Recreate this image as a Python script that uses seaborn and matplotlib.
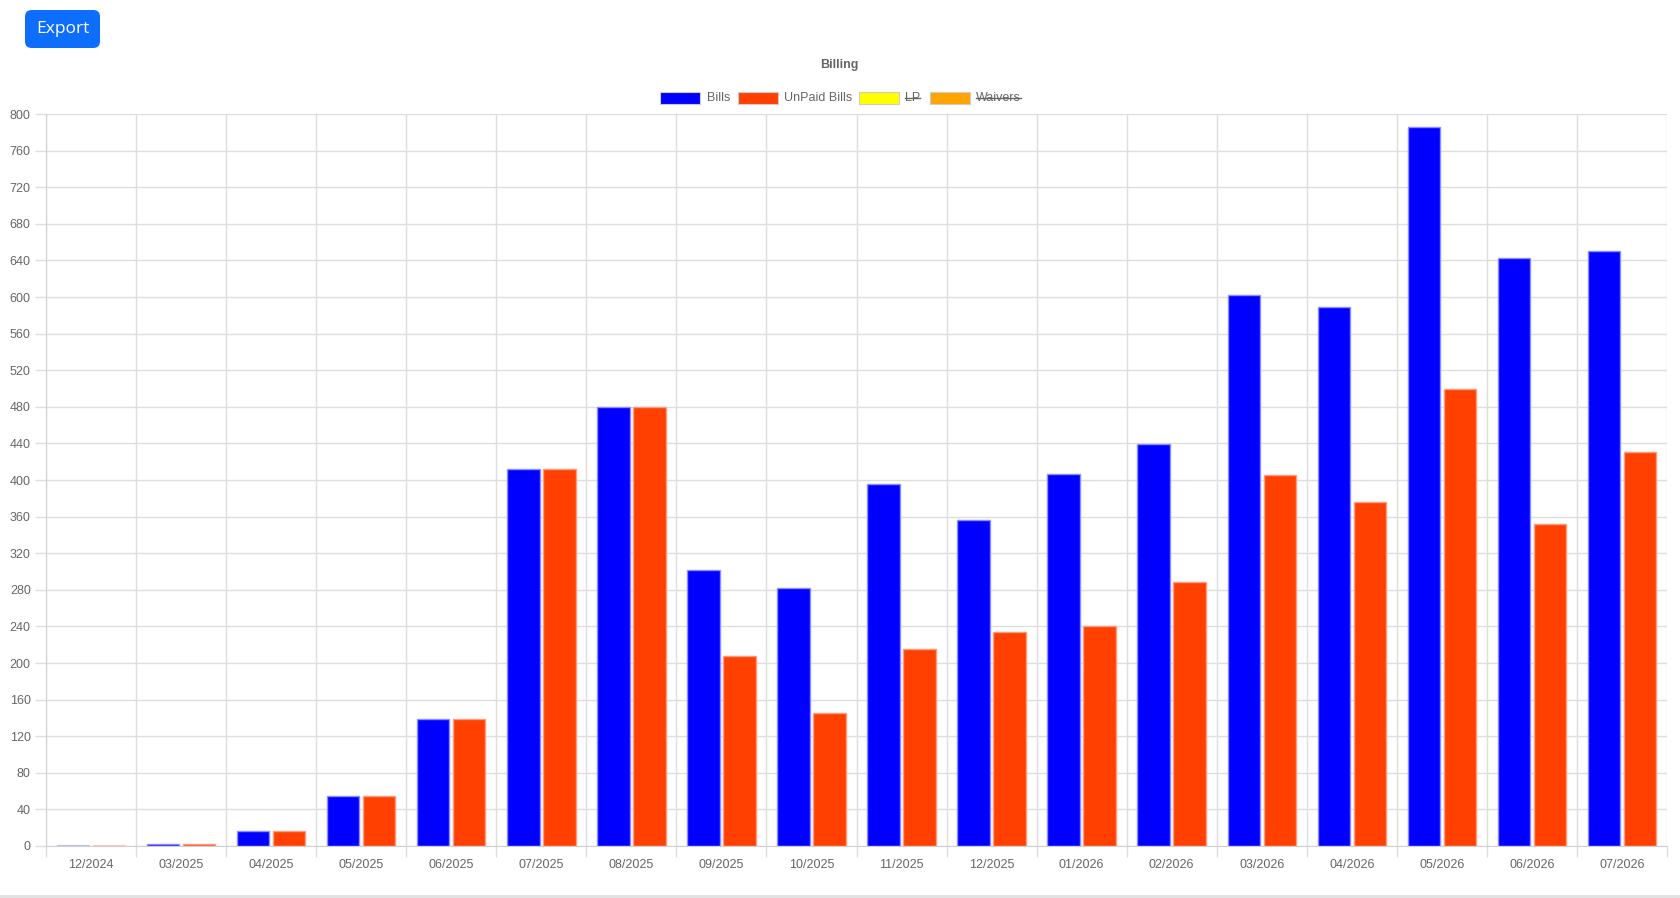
import numpy as np
import pandas as pd
import matplotlib.pyplot as plt
import seaborn as sns
from matplotlib.patches import FancyBboxPatch, Rectangle
from matplotlib.lines import Line2D

months = ["12/2024", "03/2025", "04/2025", "05/2025", "06/2025", "07/2025", "08/2025",
          "09/2025", "10/2025", "11/2025", "12/2025", "01/2026", "02/2026", "03/2026",
          "04/2026", "05/2026", "06/2026", "07/2026"]
bills = [1, 2, 16, 55, 139, 412, 480, 302, 282, 396, 356, 407, 439, 602, 589, 786, 643, 650]
unpaid = [1, 2, 16, 55, 139, 412, 480, 208, 145, 215, 234, 240, 288, 405, 376, 499, 352, 431]
series = ["Bills", "UnPaid Bills"]
colors = ["#0000ff", "#ff4000"]
hidden = ["LP", "Waivers"]
hidden_colors = ["#ffff00", "#ffa500"]

plt.rcParams["font.family"] = ["Liberation Sans", "DejaVu Sans"]

df = pd.DataFrame({"Month": months * 2,
                   "Count": bills + unpaid,
                   "Series": [series[0]] * len(months) + [series[1]] * len(months)})

W, H = 1681, 898
fig = plt.figure(figsize=(W / 100, H / 100), dpi=100)
ax = fig.add_axes([46 / W, 52 / H, (1667 - 46) / W, (846 - 114) / H])

sns.barplot(data=df, x="Month", y="Count", hue="Series", palette=colors,
            width=0.8, gap=0.1, legend=False, ax=ax, saturation=1)

edge = {"#0000ff": "#8c8cff", "#ff4000": "#ff9c80"}
for cont, c in zip(ax.containers, colors):
    for i, p in enumerate(cont.patches):
        p.set_edgecolor(edge[c])
        p.set_linewidth(1)
        if i == 0:
            p.set_alpha(0.3)

grid_c = "#dedede"
text_c = "#666666"
ax.set_ylim(0, 800)
ax.set_xlim(-0.5, len(months) - 0.5)
ax.set_yticks(np.arange(0, 801, 40))
ax.set_xticks(np.arange(-0.5, len(months), 1), minor=True)
ax.tick_params(axis="x", which="major", length=0, pad=9, labelsize=9, labelcolor=text_c)
ax.tick_params(axis="x", which="minor", length=8, color=grid_c, width=1)
ax.tick_params(axis="y", length=8, color=grid_c, width=1, labelsize=9, labelcolor=text_c, pad=3)
ax.grid(axis="x", which="minor", color=grid_c, linewidth=1)
ax.grid(axis="y", which="major", color=grid_c, linewidth=1)
ax.set_axisbelow(True)
for s in ["top", "right"]:
    ax.spines[s].set_visible(False)
for s in ["left", "bottom"]:
    ax.spines[s].set_color("#d0d0d0")
ax.set_xlabel("")
ax.set_ylabel("")

# title
fig.text(839 / W, 1 - 65 / H, "Billing", ha="center", va="center",
         fontsize=9, fontweight="bold", color=text_c)

# legend drawn by hand (LP / Waivers are hidden series, struck through)
leg_y = 98
entries = [(660, series[0], colors[0], False, 707),
           (738, series[1], colors[1], False, 784),
           (859, hidden[0], hidden_colors[0], True, 905),
           (930, hidden[1], hidden_colors[1], True, 976)]
fig.canvas.draw()
r = fig.canvas.get_renderer()
for bx, label, c, struck, tx in entries:
    fig.patches.append(Rectangle((bx / W, 1 - 104 / H), 40 / W, 12 / H,
                                 transform=fig.transFigure, facecolor=c,
                                 edgecolor="#cccccc", linewidth=0.8))
    t = fig.text(tx / W, 1 - leg_y / H, label, ha="left", va="center",
                 fontsize=9, color=text_c)
    if struck:
        bb = t.get_window_extent(renderer=r)
        fig.lines.append(Line2D([bb.x0 / W, bb.x1 / W], [1 - leg_y / H, 1 - leg_y / H],
                                transform=fig.transFigure, color=text_c, linewidth=1))

# Export button
fig.patches.append(FancyBboxPatch((25 / W, 1 - 48 / H), 75 / W, 38 / H,
                                  boxstyle="round,pad=0,rounding_size=0.004",
                                  transform=fig.transFigure, facecolor="#0d6efd",
                                  edgecolor="none", mutation_aspect=W / H))
fig.text(62.5 / W, 1 - 29 / H, "Export", ha="center", va="center",
         fontsize=12.5, color="white", family="Open Sans")

# bottom gray strip
fig.patches.append(Rectangle((0, 0), 1, 3 / H, transform=fig.transFigure,
                             facecolor="#e2e2e2", edgecolor="none"))

fig.savefig("out.png", dpi=100)
